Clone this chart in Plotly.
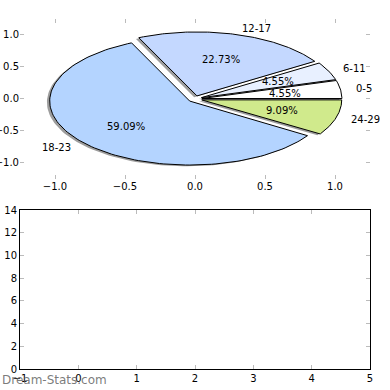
import numpy as np
import plotly.graph_objects as go

# ---- data ----
age_groups = ["0-5", "6-11", "12-17", "18-23", "24-29"]
counts = [1, 1, 5, 13, 2]
slice_colors = ["#FFFFFF", "#E8F0FF", "#C4D8FF", "#B4D4FF", "#D0EA8C"]
explode = [0.05, 0.05, 0.05, 0.05, 0.05]

top_xticks = [-1.0, -0.5, 0.0, 0.5, 1.0]
top_yticks = [-1.0, -0.5, 0.0, 0.5, 1.0]
bottom_xticks = [-1, 0, 1, 2, 3, 4, 5]
bottom_yticks = [0, 2, 4, 6, 8, 10, 12, 14]

FONT = "DejaVu Sans"
fig = go.Figure()

total = float(sum(counts))
fracs = [c / total for c in counts]

# compute wedge geometry from data (matplotlib-style pie: start at 0 deg, counter-clockwise)
wedges = []
theta1 = 0.0
for i, f in enumerate(fracs):
    theta2 = theta1 + 360.0 * f
    thm = np.deg2rad((theta1 + theta2) / 2.0)
    cx = explode[i] * np.cos(thm)
    cy = explode[i] * np.sin(thm)
    t = np.deg2rad(np.linspace(theta1, theta2, 120))
    xs = np.concatenate([[cx], cx + np.cos(t), [cx]])
    ys = np.concatenate([[cy], cy + np.sin(t), [cy]])
    wedges.append((xs, ys, cx, cy, thm))
    theta1 = theta2

# shadows
for xs, ys, cx, cy, thm in wedges:
    fig.add_trace(go.Scatter(x=xs - 0.02, y=ys - 0.02, mode="lines", fill="toself",
                             fillcolor="rgba(60,60,60,0.5)", line=dict(width=0),
                             hoverinfo="skip", showlegend=False, xaxis="x", yaxis="y"))
# wedges
for i, (xs, ys, cx, cy, thm) in enumerate(wedges):
    fig.add_trace(go.Scatter(x=xs, y=ys, mode="lines", fill="toself",
                             fillcolor=slice_colors[i], line=dict(color="black", width=1),
                             hoverinfo="skip", showlegend=False, xaxis="x", yaxis="y"))

annotations = []
for i, (xs, ys, cx, cy, thm) in enumerate(wedges):
    xt = cx + 1.1 * np.cos(thm)
    yt = cy + 1.1 * np.sin(thm)
    annotations.append(dict(x=xt, y=yt, xref="x", yref="y", text=age_groups[i],
                            showarrow=False, xanchor="left" if xt > 0 else "right",
                            yanchor="middle", font=dict(family=FONT, size=10, color="black")))
    xp = cx + 0.6 * np.cos(thm)
    yp = cy + 0.6 * np.sin(thm)
    annotations.append(dict(x=xp, y=yp, xref="x", yref="y", text="%.2f%%" % (fracs[i] * 100),
                            showarrow=False, xanchor="center", yanchor="middle",
                            font=dict(family=FONT, size=10, color="black")))

annotations.append(dict(x=0, y=0, xref="paper", yref="paper", text="Dream-Stats.com",
                        showarrow=False, xanchor="left", yanchor="middle", xshift=-20, yshift=-11,
                        font=dict(family=FONT, size=12, color="rgba(100,100,100,0.85)")))

# invisible trace to enable the bottom axes
fig.add_trace(go.Scatter(x=[None], y=[None], xaxis="x2", yaxis="y2", showlegend=False,
                         hoverinfo="skip"))

tick_common = dict(ticks="inside", ticklen=4, tickcolor="#BBBBBB", tickwidth=1,
                   showgrid=False, zeroline=False, automargin=False,
                   tickfont=dict(family=FONT, size=10, color="black"))

fig.update_layout(
    width=390, height=390,
    margin=dict(l=20, r=20, t=19, b=21),
    paper_bgcolor="white", plot_bgcolor="white",
    showlegend=False,
    annotations=annotations,
    xaxis=dict(domain=[0, 1], anchor="y", range=[-1.25, 1.25], tickvals=top_xticks,
               tickformat=".1f", showline=False, mirror="ticks", **tick_common),
    yaxis=dict(domain=[0.543, 1], anchor="x", range=[-1.25, 1.25], tickvals=top_yticks,
               tickformat=".1f", showline=False, mirror="ticks", **tick_common),
    xaxis2=dict(domain=[0, 1], anchor="y2", range=[-1, 5], tickvals=bottom_xticks,
                showline=True, linecolor="black", linewidth=1, mirror="ticks", **tick_common),
    yaxis2=dict(domain=[0, 0.454], anchor="x2", range=[0, 14], tickvals=bottom_yticks,
                showline=True, linecolor="black", linewidth=1, mirror="ticks", **tick_common),
)

# remove the default page margin so the 390x390 figure fills the window exactly
fig.write_html("out.html", config={"displayModeBar": False},
               post_script="document.body.style.margin='0';")
